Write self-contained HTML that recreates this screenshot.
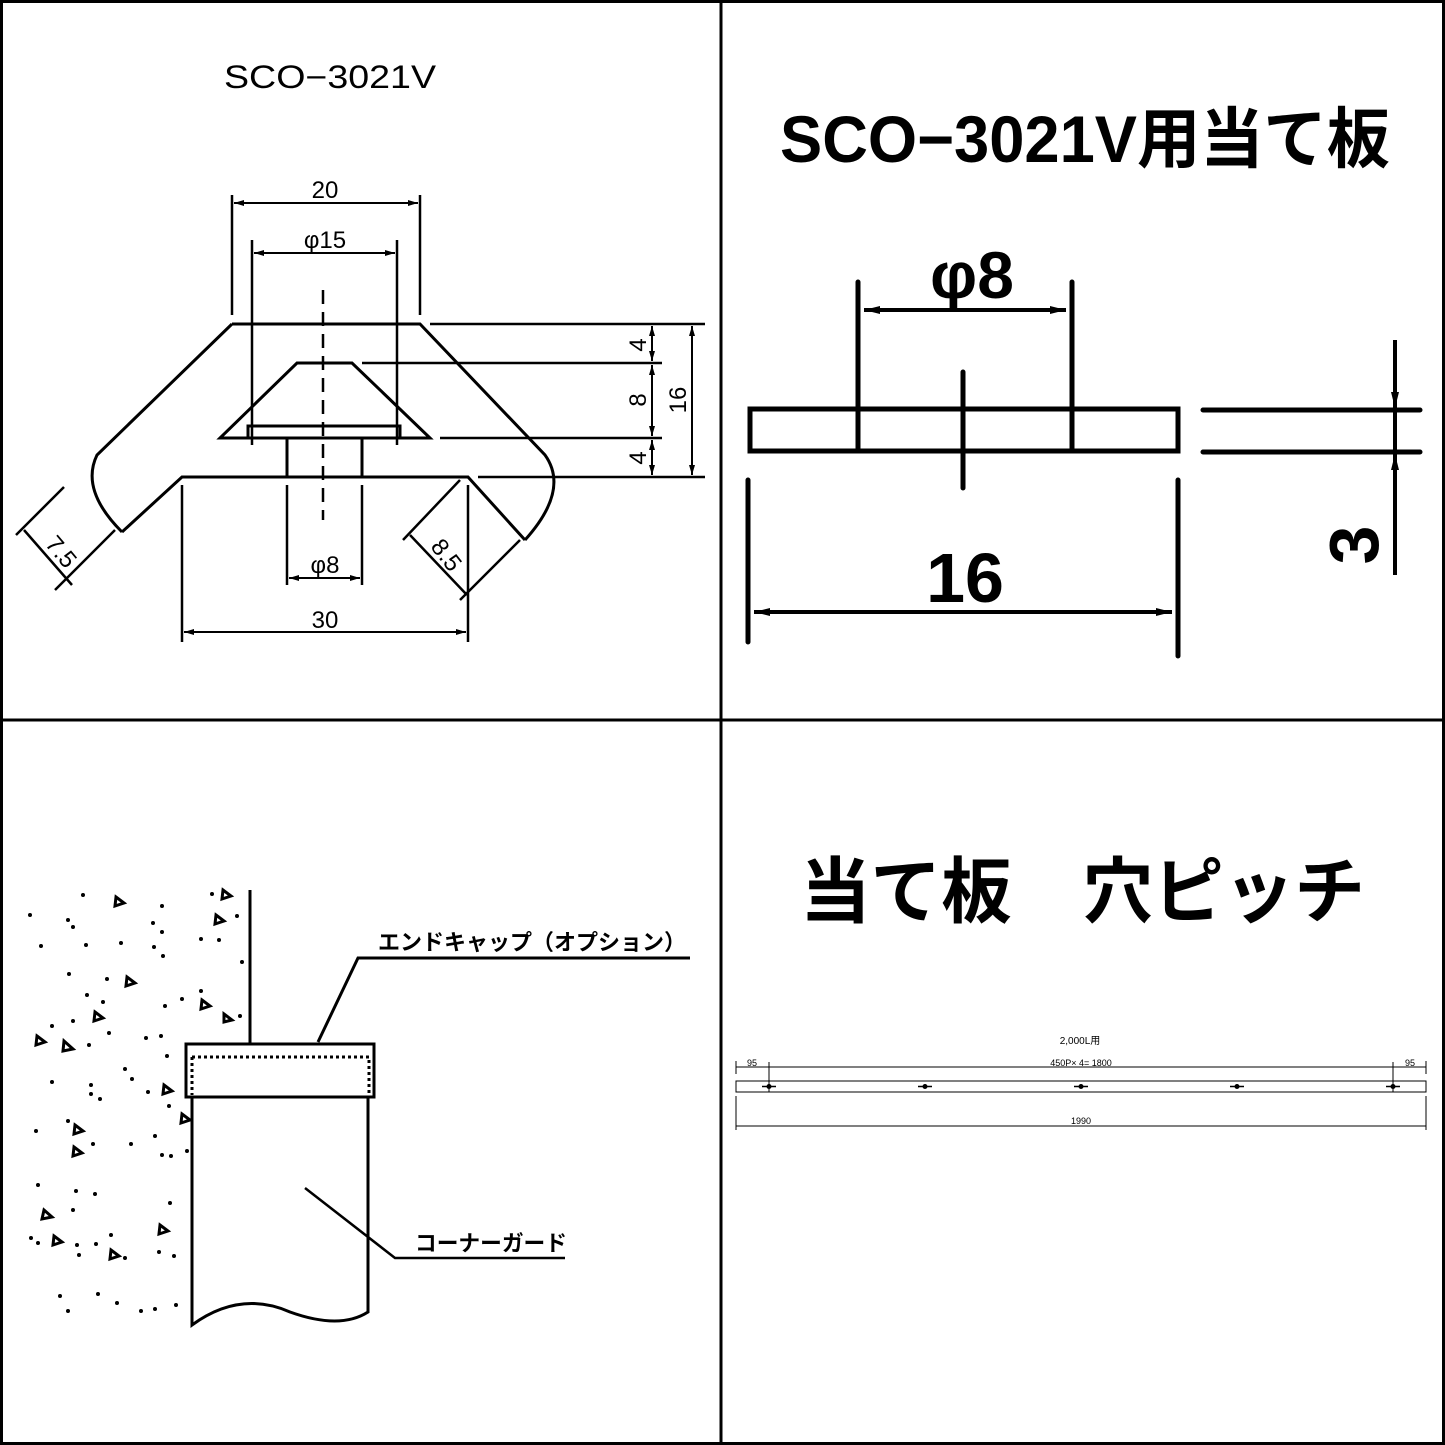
<!DOCTYPE html>
<html><head><meta charset="utf-8"><style>
html,body{margin:0;padding:0;background:#fff}
svg{display:block}
text{font-family:"Liberation Sans","Noto Sans CJK JP",sans-serif;fill:#000}
</style></head><body>
<svg width="1445" height="1445" viewBox="0 0 1445 1445" xmlns="http://www.w3.org/2000/svg">
<defs>
<marker id="a" viewBox="0 0 10 6" refX="10" refY="3" markerWidth="10" markerHeight="6" orient="auto-start-reverse" markerUnits="userSpaceOnUse"><path d="M0,0 L10,3 L0,6z" fill="#000"/></marker>
<marker id="b" viewBox="0 0 16 8" refX="16" refY="4" markerWidth="16" markerHeight="8" orient="auto-start-reverse" markerUnits="userSpaceOnUse"><path d="M0,0 L16,4 L0,8z" fill="#000"/></marker>
</defs>
<rect x="1.5" y="1.5" width="1442" height="1442" fill="none" stroke="#000" stroke-width="3"/>
<line x1="721" y1="0" x2="721" y2="1445" stroke="#000" stroke-width="3"/>
<line x1="0" y1="720" x2="1445" y2="720" stroke="#000" stroke-width="3"/>

<!-- Top-left -->
<text x="224" y="88" font-size="32" textLength="212" lengthAdjust="spacingAndGlyphs">SCO−3021V</text>
<g stroke="#000" stroke-width="3" fill="none">
<path d="M232,324 L420,324 L545,455 Q570,490 525,540"/>
<path d="M232,324 L97,455 Q80,490 122,532"/>
<path d="M122,532 L182,477 L468,477 L525,540"/>
<path d="M297,363 L352,363 L430,438 L220,438 Z"/>
<rect x="248" y="426" width="152" height="12"/>
<path d="M287,438 V477 M362,438 V477"/>
<path d="M323,290 V520" stroke-dasharray="14,8" stroke-width="2.5"/>
<path d="M232,195 V315 M420,195 V315 M252,240 V445 M397,240 V445" stroke-width="2.5"/>
<path d="M182,485 V642 M468,485 V642 M287,485 V585 M362,485 V585" stroke-width="2.5"/>
<path d="M430,324 H705 M362,363 H662 M440,438 H662 M478,477 H705" stroke-width="2.5"/>
</g>
<g stroke="#000" stroke-width="2" fill="none">
<line x1="234" y1="203" x2="418" y2="203" marker-start="url(#a)" marker-end="url(#a)"/>
<line x1="254" y1="253" x2="395" y2="253" marker-start="url(#a)" marker-end="url(#a)"/>
<line x1="184" y1="632" x2="466" y2="632" marker-start="url(#a)" marker-end="url(#a)"/>
<line x1="289" y1="578" x2="360" y2="578" marker-start="url(#a)" marker-end="url(#a)"/>
<line x1="652" y1="326" x2="652" y2="361" marker-start="url(#a)" marker-end="url(#a)"/>
<line x1="652" y1="365" x2="652" y2="436" marker-start="url(#a)" marker-end="url(#a)"/>
<line x1="652" y1="440" x2="652" y2="475" marker-start="url(#a)" marker-end="url(#a)"/>
<line x1="692" y1="326" x2="692" y2="475" marker-start="url(#a)" marker-end="url(#a)"/>
<path d="M16,535 L64,487 M55,590 L115,530 M24,530 L72,585" stroke-width="2.5"/>
<path d="M403,540 L460,480 M460,600 L520,540 M410,535 L467,595" stroke-width="2.5"/>
</g>
<text x="325" y="198" font-size="24" text-anchor="middle">20</text>
<text x="325" y="248" font-size="24" text-anchor="middle">φ15</text>
<text x="325" y="628" font-size="24" text-anchor="middle">30</text>
<text x="325" y="573" font-size="24" text-anchor="middle">φ8</text>
<text transform="translate(646,345) rotate(-90)" font-size="24" text-anchor="middle">4</text>
<text transform="translate(646,400) rotate(-90)" font-size="24" text-anchor="middle">8</text>
<text transform="translate(646,458) rotate(-90)" font-size="24" text-anchor="middle">4</text>
<text transform="translate(686,400) rotate(-90)" font-size="24" text-anchor="middle">16</text>
<text transform="translate(55,557) rotate(50)" font-size="24" text-anchor="middle">7.5</text>
<text transform="translate(440,560) rotate(52)" font-size="24" text-anchor="middle">8.5</text>

<!-- Top-right -->
<text x="780" y="162" font-size="66" textLength="610" lengthAdjust="spacingAndGlyphs" font-weight="600">SCO−3021V用当て板</text>
<g stroke="#000" stroke-width="5" fill="none" stroke-linecap="round">
<rect x="750" y="409" width="428" height="42"/>
<path d="M858,282 V450 M1072,282 V450 M963,372 V488"/>
<path d="M748,480 V642 M1178,480 V656"/>
<path d="M1203,410 H1420 M1203,452 H1420"/>
</g>
<g stroke="#000" stroke-width="4" fill="none">
<line x1="864" y1="310" x2="1066" y2="310" marker-start="url(#b)" marker-end="url(#b)"/>
<line x1="754" y1="612" x2="1172" y2="612" marker-start="url(#b)" marker-end="url(#b)"/>
<line x1="1395" y1="340" x2="1395" y2="408" marker-end="url(#b)"/>
<line x1="1395" y1="410" x2="1395" y2="452"/>
<line x1="1395" y1="575" x2="1395" y2="454" marker-end="url(#b)"/>
</g>
<text x="972" y="298" font-size="66" text-anchor="middle" font-weight="bold">φ8</text>
<text x="965" y="602" font-size="70" text-anchor="middle" font-weight="bold">16</text>
<text transform="translate(1378,545) rotate(-90)" font-size="70" text-anchor="middle" font-weight="bold">3</text>

<!-- Bottom-left -->
<g stroke="#000" stroke-width="3" fill="none">
<path d="M250,890 V1043"/>
<rect x="186" y="1044" width="188" height="53"/>
<path d="M192,1097 V1325 Q240,1290 290,1312 Q340,1330 368,1312 V1097"/>
<path d="M318,1042 L358,958 H690"/>
<path d="M305,1188 L395,1258 H565" stroke-width="2.5"/>
</g>
<path d="M192,1057 H369 V1095 M192,1057 V1095" stroke="#000" stroke-width="3" stroke-dasharray="3,3" fill="none"/>
<text x="378" y="950" font-size="22" font-weight="bold" textLength="308" lengthAdjust="spacingAndGlyphs">エンドキャップ（オプション）</text>
<text x="415" y="1251" font-size="22" font-weight="bold" textLength="152" lengthAdjust="spacingAndGlyphs">コーナーガード</text>
<g fill="#000">
<circle cx="83" cy="895" r="2"/><circle cx="162" cy="906" r="2"/><circle cx="30" cy="915" r="2"/><circle cx="68" cy="920" r="2"/><circle cx="73" cy="927" r="2"/><circle cx="153" cy="923" r="2"/><circle cx="162" cy="932" r="2"/><circle cx="41" cy="946" r="2"/><circle cx="86" cy="945" r="2"/><circle cx="121" cy="943" r="2"/><circle cx="154" cy="947" r="2"/><circle cx="163" cy="956" r="2"/><circle cx="201" cy="939" r="2"/><circle cx="219" cy="940" r="2"/><circle cx="69" cy="974" r="2"/><circle cx="107" cy="979" r="2"/><circle cx="87" cy="995" r="2"/><circle cx="103" cy="1002" r="2"/><circle cx="182" cy="999" r="2"/><circle cx="201" cy="991" r="2"/><circle cx="165" cy="1006" r="2"/><circle cx="52" cy="1026" r="2"/><circle cx="73" cy="1021" r="2"/><circle cx="109" cy="1033" r="2"/><circle cx="146" cy="1038" r="2"/><circle cx="161" cy="1036" r="2"/><circle cx="89" cy="1045" r="2"/><circle cx="167" cy="1056" r="2"/><circle cx="125" cy="1069" r="2"/><circle cx="132" cy="1079" r="2"/><circle cx="52" cy="1082" r="2"/><circle cx="91" cy="1085" r="2"/><circle cx="91" cy="1094" r="2"/><circle cx="100" cy="1099" r="2"/><circle cx="148" cy="1092" r="2"/><circle cx="169" cy="1106" r="2"/><circle cx="36" cy="1131" r="2"/><circle cx="68" cy="1121" r="2"/><circle cx="93" cy="1144" r="2"/><circle cx="131" cy="1144" r="2"/><circle cx="155" cy="1136" r="2"/><circle cx="162" cy="1155" r="2"/><circle cx="171" cy="1156" r="2"/><circle cx="187" cy="1151" r="2"/><circle cx="38" cy="1185" r="2"/><circle cx="76" cy="1191" r="2"/><circle cx="95" cy="1194" r="2"/><circle cx="73" cy="1210" r="2"/><circle cx="170" cy="1203" r="2"/><circle cx="31" cy="1238" r="2"/><circle cx="38" cy="1243" r="2"/><circle cx="77" cy="1245" r="2"/><circle cx="96" cy="1244" r="2"/><circle cx="111" cy="1235" r="2"/><circle cx="79" cy="1255" r="2"/><circle cx="159" cy="1252" r="2"/><circle cx="174" cy="1256" r="2"/><circle cx="125" cy="1258" r="2"/><circle cx="60" cy="1296" r="2"/><circle cx="98" cy="1294" r="2"/><circle cx="117" cy="1303" r="2"/><circle cx="68" cy="1311" r="2"/><circle cx="141" cy="1311" r="2"/><circle cx="155" cy="1309" r="2"/><circle cx="176" cy="1305" r="2"/><circle cx="212" cy="894" r="2"/><circle cx="237" cy="916" r="2"/><circle cx="242" cy="962" r="2"/><circle cx="240" cy="1016" r="2"/>
</g>
<g stroke="#000" stroke-width="3" fill="none">
<path d="M116,897 l8,6 l-9,3z"/><path d="M223,890 l8,6 l-9,3z"/><path d="M216,915 l8,6 l-9,3z"/><path d="M127,977 l8,6 l-9,3z"/><path d="M95,1012 l8,6 l-9,3z"/><path d="M202,1000 l8,6 l-9,3z"/><path d="M224,1014 l8,6 l-8,2z"/><path d="M37,1036 l8,6 l-9,3z"/><path d="M64,1041 l9,8 l-10,2z"/><path d="M164,1085 l8,6 l-9,3z"/><path d="M182,1114 l8,6 l-9,3z"/><path d="M75,1125 l8,6 l-9,3z"/><path d="M74,1147 l8,6 l-9,3z"/><path d="M44,1210 l8,7 l-10,2z"/><path d="M54,1236 l8,6 l-9,3z"/><path d="M111,1250 l8,6 l-9,3z"/><path d="M160,1225 l8,6 l-9,3z"/>
</g>

<!-- Bottom-right -->
<text x="800" y="917" font-size="72" textLength="565" lengthAdjust="spacingAndGlyphs" font-weight="600">当て板　穴ピッチ</text>
<text x="1080" y="1044" font-size="10" text-anchor="middle">2,000L用</text>
<g stroke="#000" stroke-width="1" fill="none">
<rect x="736" y="1081" width="690" height="11"/>
<path d="M736,1061 V1074 M769,1062 V1092 M1393,1062 V1092 M1426,1061 V1074 M736,1067 H1426 M736,1096 V1130 M1426,1096 V1130 M736,1126 H1426"/>
<path d="M762,1086.5 h14 M918,1086.5 h14 M1074,1086.5 h14 M1230,1086.5 h14 M1386,1086.5 h14" stroke-width="1.5"/>
</g>
<g fill="#000"><circle cx="769" cy="1086.5" r="2.5"/><circle cx="925" cy="1086.5" r="2.5"/><circle cx="1081" cy="1086.5" r="2.5"/><circle cx="1237" cy="1086.5" r="2.5"/><circle cx="1393" cy="1086.5" r="2.5"/></g>
<text x="752" y="1066" font-size="9" text-anchor="middle">95</text>
<text x="1081" y="1066" font-size="9" text-anchor="middle">450P× 4= 1800</text>
<text x="1410" y="1066" font-size="9" text-anchor="middle">95</text>
<text x="1081" y="1124" font-size="9" text-anchor="middle">1990</text>
</svg>
</body></html>
